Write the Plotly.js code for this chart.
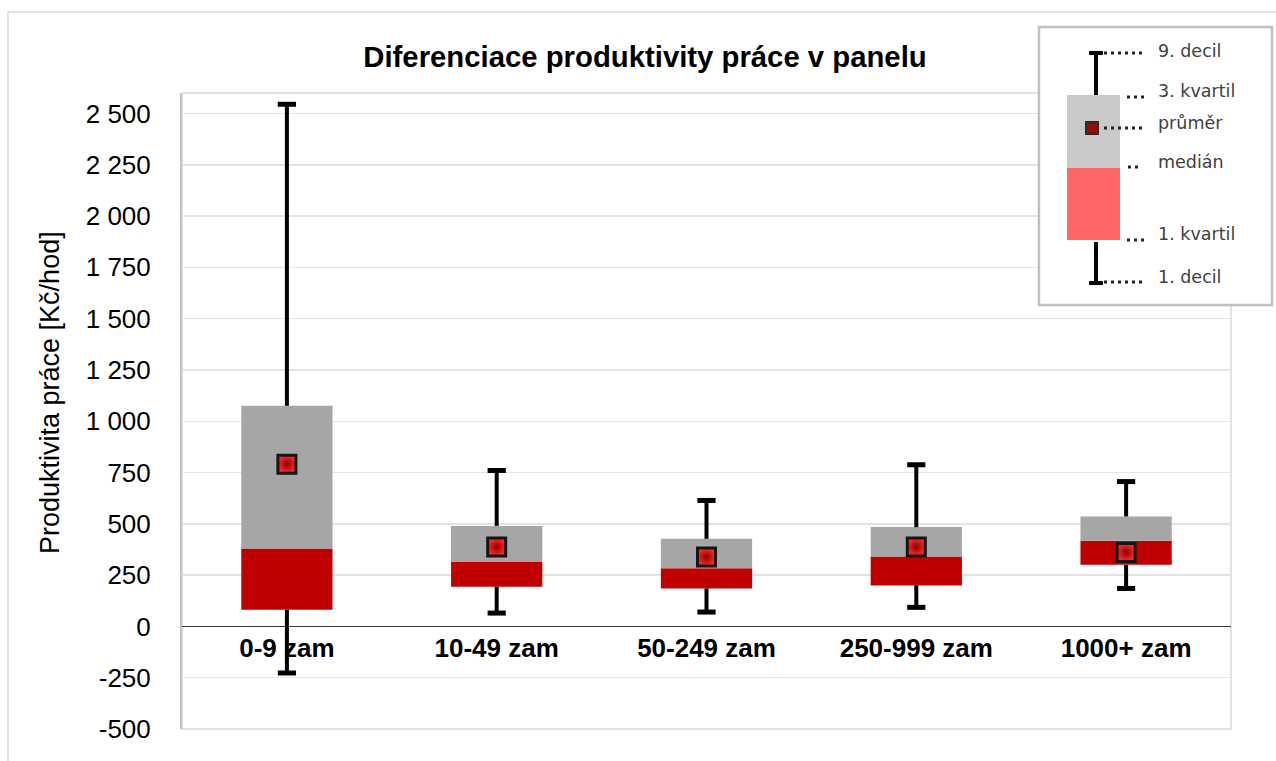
<!DOCTYPE html>
<html>
<head>
<meta charset="utf-8">
<script src="https://cdn.plot.ly/plotly-3.0.1.min.js"></script>
<style>html,body{margin:0;padding:0;background:#fff;}#chart{width:1276px;height:761px;}</style>
</head>
<body>
<div id="chart"></div>
<script>
// ---- data ----
const categories = ['0-9 zam', '10-49 zam', '50-249 zam', '250-999 zam', '1000+ zam'];
const decil1   = [-227, 65, 70, 93, 185];
const kvartil1 = [81, 193, 185, 200, 300];
const median   = [380, 314, 284, 341, 417];
const kvartil3 = [1075, 490, 427, 484, 536];
const decil9   = [2545, 760, 614, 788, 706];
const prumer   = [791, 387, 338, 387, 360];
const yTicks   = [-500, -250, 0, 250, 500, 750, 1000, 1250, 1500, 1750, 2000, 2250, 2500];
const legendLabels = ['9. decil', '3. kvartil', 'průměr', 'medián', '1. kvartil', '1. decil'];

function fmt(v) {
  const s = String(Math.abs(v)).replace(/\B(?=(\d{3})+(?!\d))/g, ' ');
  return (v < 0 ? '-' : '') + s;
}

// plot-area geometry in pixels (for decorative legend drawing)
const L = 182, R = 1231, T = 93, B = 729;
const px = x => (x - L) / (R - L);
const py = y => (B - y) / (B - T);

const traces = [
  { type: 'bar', x: categories, base: kvartil1, y: median.map((m, i) => m - kvartil1[i]),
    marker: { color: '#c00000', line: { width: 0 } }, hoverinfo: 'skip' },
  { type: 'bar', x: categories, base: median, y: kvartil3.map((q, i) => q - median[i]),
    marker: { color: '#a6a6a6', line: { width: 0 } }, hoverinfo: 'skip' },
  { type: 'scatter', mode: 'lines',
    x: categories.flatMap(c => [c, c, null, c, c, null]),
    y: categories.flatMap((c, i) => [kvartil3[i], decil9[i], null, decil1[i], kvartil1[i], null]),
    line: { color: '#000', width: 4 }, hoverinfo: 'skip' },
  { type: 'scatter', mode: 'markers',
    x: categories.concat(categories), y: decil9.concat(decil1),
    marker: { symbol: 'line-ew', size: 13, line: { color: '#000', width: 5 } }, hoverinfo: 'skip' },
  { type: 'scatter', mode: 'markers', x: categories, y: prumer,
    marker: { symbol: 'square', size: 18, color: '#ff2a2a', gradient: { type: 'radial', color: '#8a0000' },
      line: { color: '#151515', width: 3 } }, hoverinfo: 'skip' }
];

const shapes = [
  // outer chart border
  { type: 'rect', xref: 'paper', yref: 'paper', x0: px(8), y0: py(12), x1: px(1400), y1: py(900),
    line: { color: '#d9d9d9', width: 1.5 }, layer: 'below' },
  // plot frame
  { type: 'rect', xref: 'paper', yref: 'paper', x0: 0, y0: 0, x1: 1, y1: 1,
    line: { color: '#d9d9d9', width: 1.5 }, layer: 'below' },
  // legend box
  { type: 'rect', xref: 'paper', yref: 'paper', x0: px(1039), y0: py(27), x1: px(1272), y1: py(305),
    fillcolor: '#fff', line: { color: '#c0c0c0', width: 2.5 }, layer: 'above' },
  // legend whiskers
  { type: 'line', xref: 'paper', yref: 'paper', x0: px(1096), x1: px(1096), y0: py(53), y1: py(95), line: { color: '#000', width: 4 } },
  { type: 'line', xref: 'paper', yref: 'paper', x0: px(1089), x1: px(1103), y0: py(53), y1: py(53), line: { color: '#000', width: 4 } },
  { type: 'line', xref: 'paper', yref: 'paper', x0: px(1096), x1: px(1096), y0: py(242), y1: py(283), line: { color: '#000', width: 4 } },
  { type: 'line', xref: 'paper', yref: 'paper', x0: px(1089), x1: px(1103), y0: py(283), y1: py(283), line: { color: '#000', width: 4 } },
  // legend box halves
  { type: 'rect', xref: 'paper', yref: 'paper', x0: px(1067), x1: px(1120), y0: py(95), y1: py(168), fillcolor: '#c9c9c9', line: { width: 0 } },
  { type: 'rect', xref: 'paper', yref: 'paper', x0: px(1067), x1: px(1120), y0: py(168), y1: py(240), fillcolor: '#ff6666', line: { width: 0 } },
  // legend mean marker
  { type: 'rect', xref: 'paper', yref: 'paper', x0: px(1086), x1: px(1098), y0: py(122), y1: py(134), fillcolor: '#9a0a0a', line: { color: '#2a2a2a', width: 2 } }
];
// dotted leader lines
const dots = [[1104, 1146, 53], [1127, 1146, 97], [1104, 1146, 128], [1128, 1142, 167], [1127, 1146, 240], [1104, 1146, 282]];
dots.forEach(d => shapes.push({ type: 'line', xref: 'paper', yref: 'paper', x0: px(d[0]), x1: px(d[1]), y0: py(d[2]), y1: py(d[2]),
  line: { color: '#222', width: 3, dash: '3px,4px' } }));

const legendY = [51, 91, 123, 162, 234, 277];
const annotations = legendLabels.map((t, i) => ({
  xref: 'paper', yref: 'paper', x: px(1156), y: py(legendY[i]), xanchor: 'left', yanchor: 'middle',
  text: t, showarrow: false, font: { family: 'DejaVu Sans', size: 17.5, color: '#404040' }
}));
annotations.push({
  xref: 'paper', yref: 'paper', x: px(50), y: py(393), xanchor: 'center', yanchor: 'middle', textangle: -90,
  text: 'Produktivita práce [Kč/hod]', showarrow: false, font: { family: 'Liberation Sans, Arial', size: 27, color: '#000' }
});

const layout = {
  width: 1276, height: 761,
  margin: { l: L, r: 1276 - R, t: T, b: 761 - B, pad: 0 },
  paper_bgcolor: '#fff', plot_bgcolor: '#fff',
  showlegend: false, hovermode: false,
  barmode: 'overlay', bargap: 0.565,
  title: { text: '<b>Diferenciace produktivity práce v panelu</b>', x: 645 / 1276, xanchor: 'center',
    y: 1 - 57 / 761, yanchor: 'middle', font: { family: 'Liberation Sans, Arial', size: 29.3, color: '#000' } },
  xaxis: {
    type: 'category', anchor: 'free', position: (0 - (-500)) / (2600 - (-500)),
    showline: false, showgrid: false, zeroline: false, ticks: '', ticklabelstandoff: 4,
    tickfont: { family: 'Liberation Sans, Arial', size: 26, color: '#000', weight: 'bold' },
    layer: 'below traces', fixedrange: true
  },
  yaxis: {
    range: [-500, 2600], tickvals: yTicks, ticktext: yTicks.map(fmt),
    showgrid: true, gridcolor: '#e3e3e3', gridwidth: 1.5,
    zeroline: true, zerolinecolor: '#3a3a3a', zerolinewidth: 1.5,
    showline: true, linecolor: '#c4c4c4', linewidth: 2, ticks: '', ticklabelstandoff: 24,
    tickfont: { family: 'Liberation Sans, Arial', size: 26, color: '#000' }, fixedrange: true
  },
  shapes: shapes,
  annotations: annotations
};

Plotly.newPlot('chart', traces, layout, { staticPlot: true, displayModeBar: false });
</script>
</body>
</html>
